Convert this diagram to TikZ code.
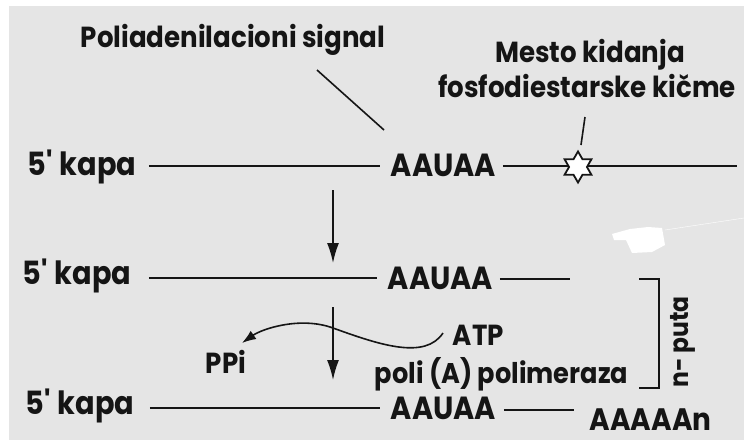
\documentclass[tikz,border=0pt]{standalone}
\usepackage{fontspec}
\setmainfont{Poppins}[FakeStretch = 0.9]
\usetikzlibrary{shapes.geometric, arrows.meta, calc}

\definecolor{panel}{HTML}{E5E5E5}
\definecolor{ink}{HTML}{151515}

\begin{document}
\begin{tikzpicture}[x = 1pt, y = -1pt, line width = 1.6pt, color = ink,
    lbl/.style = {inner sep = 0pt, font = \bfseries\fontsize{#1}{#1}\selectfont},
    lbl/.default = 32,
    tip/.style = {-{Latex[length = 20pt, width = 12pt]}}]

%background panel
        \useasboundingbox (0,0) rectangle (744,440);
        \fill[panel] (9,6) rectangle (744,440);
        \fill[white] (612,234) -- (630,229) -- (648,227) -- (662,228) -- (665,245) -- (652,252) -- (632,253) -- (626,240) -- (614,240) -- cycle;
        \draw[white, line width = 0.4pt] (665,230) -- (744,218);

%labels above the strand
        \node (polyA) at (233,47) [lbl = 29, anchor = base] {Poliadenilacioni signal};
        \node (cutA) at (590,62) [lbl = 29, anchor = base] {Mesto kidanja};
        \node (cutB) at (587,97) [lbl = 29, anchor = base] {fosfodiestarske kičme};

%three rows of the strand
        \coordinate (rowA) at (0,166);
        \coordinate (rowB) at (0,278);
        \coordinate (rowC) at (0,408);

        \node (kapaA) at (27,175) [lbl, anchor = base west] {5\textquotesingle{} kapa};
        \node (sigA) at (390,176) [lbl, anchor = base west] {AAUAA};
        \node (kapaB) at (22,284) [lbl, anchor = base west] {5\textquotesingle{} kapa};
        \node (sigB) at (387,289) [lbl, anchor = base west] {AAUAA};
        \node (kapaC) at (25,414) [lbl, anchor = base west] {5\textquotesingle{} kapa};
        \node (sigC) at (390,419) [lbl, anchor = base west] {AAUAA};
        \node (tail) at (589,430) [lbl = 31, anchor = base west] {AAAAAn};

        \coordinate (endA) at (737,166);
        \coordinate (endB) at (570,279);
        \coordinate (endC) at (574,410);

        \draw[shorten <= 12pt, shorten >= 10pt] (kapaA.east |- rowA) -- (sigA.west |- rowA);
        \draw[shorten <= 6pt] (sigA.east |- endA) -- (endA);
        \draw[shorten <= 17pt, shorten >= 10pt] (kapaB.east |- rowB) -- (sigB.west |- rowB);
        \draw[shorten <= 6pt] (sigB.east |- endB) -- (endB);
        \draw[shorten <= 15pt, shorten >= 10pt] (kapaC.east |- rowC) -- (sigC.west |- rowC);
        \draw[shorten <= 7pt] (sigC.east |- endC) -- (endC);

%cut site
        \node (cut) at (578,167) [star, star points = 6, star point ratio = 1.73, minimum size = 31pt, inner sep = 0pt, draw, line width = 1.8pt, fill = white] {};
        \coordinate (tickT) at (585,117);
        \coordinate (tickB) at (581,145);
        \draw (tickT) -- (tickB);
        \coordinate (diagT) at (317,70);
        \coordinate (diagB) at (384,130);
        \draw (diagT) -- (diagB);

%steps between rows
        \coordinate (stepAT) at (333,190);
        \coordinate (stepAB) at (333,263);
        \draw[tip] (stepAT) -- (stepAB);
        \coordinate (stepBT) at (333,307);
        \coordinate (stepBB) at (333,380);
        \draw[tip] (stepBT) -- (stepBB);

%ATP to PPi
        \node (atp) at (452,345) [lbl = 29, anchor = base west] {ATP};
        \node (ppi) at (205,373) [lbl = 29, anchor = base west] {PPi};
        \node (enz) at (374,383) [lbl = 28.5, anchor = base west] {poli (A) polimeraza};
        \coordinate (atpEnd) at (443,333);
        \coordinate (ppiEnd) at (242,343);
        \draw[-{Latex[length = 14pt, width = 10pt]}] (atpEnd) .. controls (425,360) and (380,345) .. (333,328) .. controls (300,316) and (262,329) .. (ppiEnd);

%repeat bracket
        \draw (639,279) -| (659,388) -- (639,388);
        \node (times) at (683,342) [lbl = 26, rotate = 90] {n- puta};

\end{tikzpicture}
\end{document}
